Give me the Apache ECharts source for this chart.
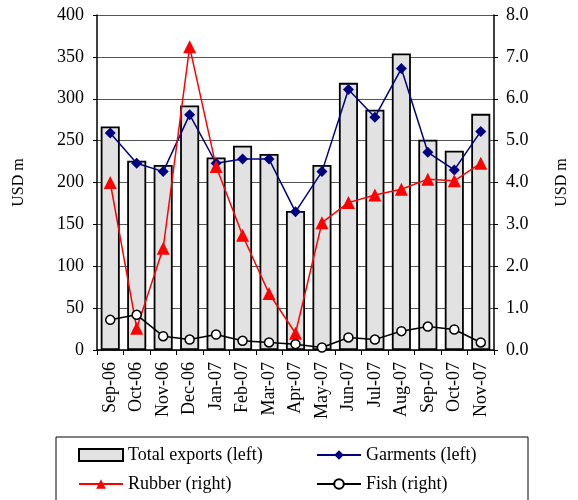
<!DOCTYPE html>
<html>
<head>
<meta charset="utf-8">
<script src="https://cdn.jsdelivr.net/npm/echarts@6/dist/echarts.min.js"></script>
<style>
  html, body { margin: 0; padding: 0; background: #fff; }
  #chart { width: 578px; height: 500px; }
</style>
</head>
<body>
<div id="chart"></div>
<script>
// months on the x axis
const months = ['Sep-06', 'Oct-06', 'Nov-06', 'Dec-06', 'Jan-07', 'Feb-07', 'Mar-07', 'Apr-07',
  'May-07', 'Jun-07', 'Jul-07', 'Aug-07', 'Sep-07', 'Oct-07', 'Nov-07']

// left axis (USD m)
const totalExports = [267, 226, 221, 292, 230, 244, 234, 166, 221, 319, 287, 354, 251, 238, 282]
const garments = [259, 223, 213, 281, 223, 228, 228, 165, 213, 311, 278, 336, 236, 215, 261]

// right axis (USD m)
const rubber = [4.0, 0.52, 2.43, 7.24, 4.38, 2.74, 1.35, 0.4, 3.04, 3.52, 3.7, 3.84, 4.08, 4.04, 4.46]
const fish = [0.72, 0.84, 0.33, 0.25, 0.37, 0.22, 0.18, 0.14, 0.06, 0.3, 0.25, 0.45, 0.56, 0.49, 0.18]

const serif = '"Liberation Serif", "DejaVu Serif", serif'

const chart = echarts.init(document.getElementById('chart'))

const option = {
  backgroundColor: '#fff',
  animation: false,
  textStyle: { fontFamily: serif, color: '#000' },
  grid: { left: 97, right: 82, top: 15, bottom: 150 },
  legend: [
    {
      left: 73, top: 441, orient: 'vertical', itemGap: 11,
      itemWidth: 44, itemHeight: 12,
      textStyle: { fontFamily: serif, fontSize: 18, color: '#000' },
      data: [{ name: 'Total exports (left)', icon: 'rect' }, 'Rubber (right)']
    },
    {
      left: 311, top: 441, orient: 'vertical', itemGap: 11,
      itemWidth: 44, itemHeight: 12,
      textStyle: { fontFamily: serif, fontSize: 18, color: '#000' },
      data: ['Garments (left)', 'Fish (right)']
    }
  ],
  graphic: [{
    type: 'rect',
    shape: { x: 56, y: 437, width: 472, height: 80 },
    style: { fill: 'none', stroke: '#000', lineWidth: 1 }
  }],
  xAxis: {
    type: 'category',
    data: months,
    axisLine: { lineStyle: { color: '#000', width: 1.5 } },
    axisTick: { show: true, alignWithLabel: false, length: 5, lineStyle: { color: '#000' } },
    axisLabel: { rotate: 90, fontFamily: serif, fontSize: 18, color: '#000', margin: 12 }
  },
  yAxis: [
    {
      type: 'value', min: 0, max: 400, interval: 50,
      name: 'USD m', nameLocation: 'middle', nameRotate: 90, nameGap: 70,
      nameTextStyle: { fontFamily: serif, fontSize: 16, color: '#000' },
      axisLine: { show: true, lineStyle: { color: '#000', width: 1.5 } },
      axisTick: { show: true, length: 4, lineStyle: { color: '#000' } },
      axisLabel: { fontFamily: serif, fontSize: 18, color: '#000', margin: 13 },
      splitLine: { lineStyle: { color: '#555', width: 1 } }
    },
    {
      type: 'value', min: 0, max: 8, interval: 1,
      name: 'USD m', nameLocation: 'middle', nameRotate: 90, nameGap: 60,
      nameTextStyle: { fontFamily: serif, fontSize: 16, color: '#000' },
      axisLine: { show: true, lineStyle: { color: '#000', width: 1.5 } },
      axisTick: { show: true, length: 4, lineStyle: { color: '#000' } },
      axisLabel: { fontFamily: serif, fontSize: 18, color: '#000', margin: 12,
        formatter: v => v.toFixed(1) },
      splitLine: { show: false }
    }
  ],
  series: [
    {
      name: 'Total exports (left)',
      type: 'bar',
      yAxisIndex: 0,
      barWidth: '72%',
      itemStyle: { color: '#e2e2e2', borderColor: '#000', borderWidth: 1.8 },
      data: totalExports
    },
    {
      name: 'Garments (left)',
      type: 'line',
      yAxisIndex: 0,
      symbol: 'diamond',
      symbolSize: 11,
      lineStyle: { color: '#000080', width: 1.5 },
      itemStyle: { color: '#000080' },
      data: garments
    },
    {
      name: 'Rubber (right)',
      type: 'line',
      yAxisIndex: 1,
      symbol: 'triangle',
      symbolSize: 13,
      lineStyle: { color: '#ff0000', width: 1.5 },
      itemStyle: { color: '#ff0000' },
      data: rubber
    },
    {
      name: 'Fish (right)',
      type: 'line',
      yAxisIndex: 1,
      symbol: 'circle',
      symbolSize: 9,
      lineStyle: { color: '#000', width: 1.5 },
      itemStyle: { color: '#fff', borderColor: '#000', borderWidth: 1.5 },
      data: fish
    }
  ]
}

chart.setOption(option)
</script>
</body>
</html>
